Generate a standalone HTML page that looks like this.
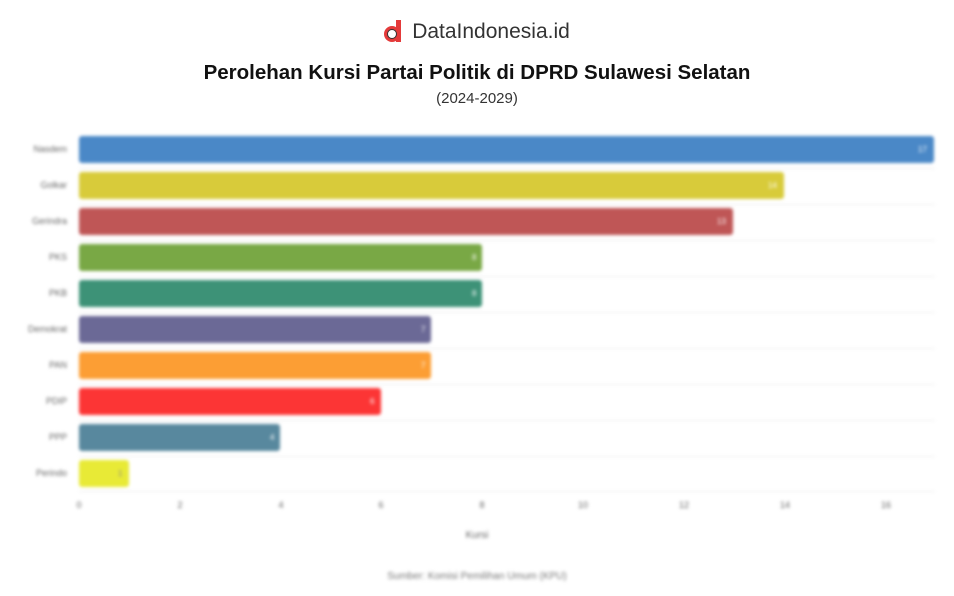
<!DOCTYPE html>
<html><head><meta charset="utf-8"><style>
body{margin:0;width:954px;height:596px;background:#fff;font-family:"Liberation Sans",sans-serif;position:relative;overflow:hidden}
.t{position:absolute;left:0;width:954px;text-align:center}
.chart{position:absolute;left:0;top:0;width:954px;height:596px;filter:blur(1.5px)}
.bar{position:absolute;left:79px;height:27px;border-radius:3px}
.lab{position:absolute;right:887px;font-size:9px;color:#666;text-align:right;white-space:nowrap}
.val{position:absolute;font-size:8px;color:#fff}
.grid{position:absolute;left:79px;width:856px;height:1px;background:#eee}
.tick{position:absolute;top:500px;font-size:9px;color:#666;width:20px;text-align:center}
</style></head><body>
<div class="t" style="top:20px;font-size:21px;color:#333;">
<span style="display:inline-block;width:20px;height:22px;vertical-align:-4px;margin-right:8px;position:relative">
<span style="position:absolute;left:0;top:6px;width:16px;height:16px;border-radius:50%;background:#e43a3a"></span>
<span style="position:absolute;left:12px;top:0;width:5px;height:22px;background:#e43a3a"></span>
<span style="position:absolute;left:3px;top:9px;width:8px;height:8px;border-radius:50%;background:#fff;border:1px solid #333"></span>
</span>DataIndonesia.id</div>
<div class="t" style="top:61px;font-size:20.5px;font-weight:bold;color:#111">Perolehan Kursi Partai Politik di DPRD Sulawesi Selatan</div>
<div class="t" style="top:90px;font-size:15px;color:#333">(2024-2029)</div>
<div class="chart">
<div class="grid" style="top:168px"></div><div class="grid" style="top:204px"></div><div class="grid" style="top:240px"></div><div class="grid" style="top:276px"></div><div class="grid" style="top:312px"></div><div class="grid" style="top:348px"></div><div class="grid" style="top:384px"></div><div class="grid" style="top:420px"></div><div class="grid" style="top:456px"></div><div class="grid" style="top:491px"></div>
<div class="bar" style="top:136px;width:855px;background:#4a88c7"></div>
<div class="bar" style="top:172px;width:705px;background:#d8cb3a"></div>
<div class="bar" style="top:208px;width:654px;background:#bf5656"></div>
<div class="bar" style="top:244px;width:403px;background:#79a845"></div>
<div class="bar" style="top:280px;width:403px;background:#3d9277"></div>
<div class="bar" style="top:316px;width:352px;background:#6b6996"></div>
<div class="bar" style="top:352px;width:352px;background:#fc9e34"></div>
<div class="bar" style="top:388px;width:302px;background:#fc3535"></div>
<div class="bar" style="top:424px;width:201px;background:#58889e"></div>
<div class="bar" style="top:460px;width:50px;background:#e8ea36"></div>
<div class="val" style="left:918px;top:145px">17</div><div class="val" style="left:768px;top:181px">14</div><div class="val" style="left:717px;top:217px">13</div><div class="val" style="left:472px;top:253px">8</div><div class="val" style="left:472px;top:289px">8</div><div class="val" style="left:421px;top:325px">7</div><div class="val" style="left:421px;top:361px">7</div><div class="val" style="left:370px;top:397px">6</div><div class="val" style="left:270px;top:433px">4</div><div class="val" style="left:118px;top:469px;color:#888">1</div>
<div class="lab" style="top:144px">Nasdem</div><div class="lab" style="top:180px">Golkar</div><div class="lab" style="top:216px">Gerindra</div><div class="lab" style="top:252px">PKS</div><div class="lab" style="top:288px">PKB</div><div class="lab" style="top:324px">Demokrat</div><div class="lab" style="top:360px">PAN</div><div class="lab" style="top:396px">PDIP</div><div class="lab" style="top:432px">PPP</div><div class="lab" style="top:468px">Perindo</div>
<div class="tick" style="left:69px">0</div><div class="tick" style="left:170px">2</div><div class="tick" style="left:271px">4</div><div class="tick" style="left:371px">6</div><div class="tick" style="left:472px">8</div><div class="tick" style="left:573px">10</div><div class="tick" style="left:674px">12</div><div class="tick" style="left:775px">14</div><div class="tick" style="left:876px">16</div>
<div class="t" style="top:530px;font-size:10px;color:#666">Kursi</div>
<div class="t" style="top:571px;font-size:10px;color:#777">Sumber: Komisi Pemilihan Umum (KPU)</div>
</div>
</body></html>
